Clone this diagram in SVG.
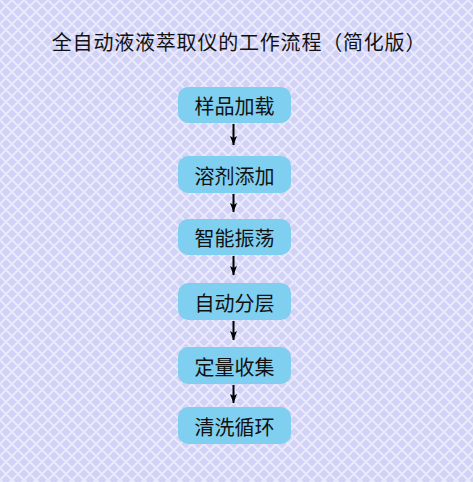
<svg xmlns="http://www.w3.org/2000/svg" width="473" height="482" viewBox="0 0 473 482">
  <defs>
    <pattern id="bg" width="12" height="12" patternUnits="userSpaceOnUse">
      <rect width="12" height="12" fill="#d2d2f6"/>
      <path d="M-1,-1 L13,13 M13,-1 L-1,13" stroke="#e9e9fd" stroke-width="2"/>
    </pattern>
    <marker id="ah" markerWidth="9" markerHeight="7" refX="9" refY="3.5" orient="auto" markerUnits="userSpaceOnUse" viewBox="0 0 9 7">
      <path d="M0,0 L9,3.5 L0,7 L2,3.5 Z" fill="#000"/>
    </marker>
  </defs>
  <style>
    .box { fill: #7fcff0; }
    .lbl { font-family: "Noto Sans CJK SC", "Noto Sans CJK JP", sans-serif; font-size: 20px; fill: #111; text-anchor: middle; dominant-baseline: central; }
    .title { font-family: "Noto Sans CJK SC", "Noto Sans CJK JP", sans-serif; font-size: 20px; letter-spacing: 0.8px; fill: #111; text-anchor: middle; }
    .conn { stroke: #000; stroke-width: 2; fill: none; }
  </style>
  <rect width="473" height="482" fill="url(#bg)"/>
  <text class="title" x="239" y="50">全自动液液萃取仪的工作流程（简化版）</text>

  <g id="n1"><rect class="box" x="178" y="87" width="113" height="36" rx="10"/><text class="lbl" x="234.5" y="105.5">样品加载</text></g>
  <g id="n2"><rect class="box" x="178" y="156" width="113" height="37" rx="10"/><text class="lbl" x="234.5" y="175">溶剂添加</text></g>
  <g id="n3"><rect class="box" x="178" y="219" width="113" height="36" rx="10"/><text class="lbl" x="234.5" y="237.5">智能振荡</text></g>
  <g id="n4"><rect class="box" x="178" y="283" width="113" height="37" rx="10"/><text class="lbl" x="234.5" y="302">自动分层</text></g>
  <g id="n5"><rect class="box" x="178" y="347" width="113" height="37" rx="10"/><text class="lbl" x="234.5" y="366">定量收集</text></g>
  <g id="n6"><rect class="box" x="178" y="407" width="113" height="37" rx="10"/><text class="lbl" x="234.5" y="426">清洗循环</text></g>

  <g id="connectors">
    <line class="conn" x1="233.5" y1="124" x2="233.5" y2="145" marker-end="url(#ah)"/>
    <line class="conn" x1="233.5" y1="194" x2="233.5" y2="212" marker-end="url(#ah)"/>
    <line class="conn" x1="233.5" y1="256" x2="233.5" y2="275" marker-end="url(#ah)"/>
    <line class="conn" x1="233.5" y1="321" x2="233.5" y2="340" marker-end="url(#ah)"/>
    <line class="conn" x1="233.5" y1="385" x2="233.5" y2="403" marker-end="url(#ah)"/>
  </g>
</svg>
